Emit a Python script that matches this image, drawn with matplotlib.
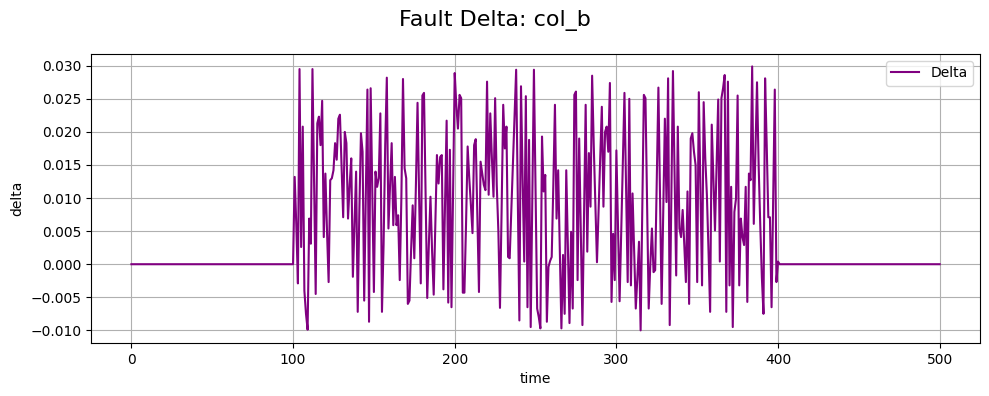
import numpy as np
import matplotlib
matplotlib.use("Agg")
import matplotlib.pyplot as plt

# time axis and fault window
t_start, t_end = 0, 500
fault_start = 101

# delta values, fault window only (t=101..400)
seg_a = [0.0132, 0.006, -0.0029, 0.0295, 0.0026, 0.0208, -0.004, -0.0075, -0.0099, 0.0069,
         0.0031, 0.0295, 0.012, -0.0045, 0.0213, 0.0223, 0.018, 0.0247, 0.0041, 0.0137,
         0.005, -0.0027, 0.0127, 0.013, 0.0142, 0.0183, 0.0158, 0.022, 0.0226, 0.015,
         0.0071, 0.020, 0.0183, 0.0069, 0.012, 0.016, -0.0019, 0.006, 0.014, -0.0072,
         0.008, 0.0198, 0.017, -0.0055, 0.010, 0.0264, -0.0087]
seg_b = [0.0266, 0.011, -0.0042, 0.014, 0.0117, 0.013, 0.0228, -0.0072, 0.003, 0.018,
         0.0282, 0.0054, 0.012, 0.0183, 0.0059, 0.0132, 0.0059, 0.0074, -0.0024, 0.01,
         0.028, 0.0145, 0.013, -0.006, -0.0055, 0.002, 0.0089, 0.0009, 0.012, 0.0244,
         0.01, -0.0029, 0.0255, 0.0259, 0.01, -0.0051, 0.003, 0.0102, 0.002, -0.0046,
         0.006, 0.0165, 0.0122, 0.0162, 0.0165, -0.0038, 0.009, 0.0217, -0.0058, 0.0173]
seg_c = [-0.0065, 0.011, 0.0289, 0.024, 0.0205, 0.0256, 0.0251, -0.0043, -0.0043, 0.006,
         0.0178, 0.013, 0.009, 0.0047, 0.018, 0.0189, 0.007, -0.0042, 0.0155, 0.0137,
         0.012, 0.0112, 0.0276, 0.0105, 0.0228, 0.016, 0.0102, 0.0251, 0.012, 0.005,
         -0.0066, 0.008, 0.0241, 0.0175, 0.0208, 0.0011, 0.0009, 0.008, 0.015, 0.022,
         0.0294, 0.010, -0.0085, 0.0269, 0.013, 0.0004, 0.0254, -0.0065, 0.0188]
seg_d = [-0.0095, 0.01, 0.0294, 0.0115, -0.0067, -0.008, -0.0097, 0.0193, 0.011, 0.0135,
         -0.0087, -0.0004, 0.0005, 0.0011, 0.012, 0.0241, 0.0069, 0.0142, 0.002, -0.0097,
         0.0014, -0.0075, 0.0142, 0.003, -0.0089, 0.0049, -0.0067, 0.0256, 0.0261, -0.0024,
         0.019, 0.005, -0.0092, 0.008, 0.0241, 0.0019, 0.0168, 0.0087, 0.0285, 0.018,
         0.009, 0.0003, 0.008, 0.016, 0.0238, 0.0087, 0.02, 0.0208, 0.017, 0.0274]
seg_e = [-0.0057, 0.0046, -0.0024, 0.0172, 0.006, -0.0056, 0.005, 0.016, 0.0259, 0.012,
         -0.0027, 0.025, -0.0032, 0.0107, 0.002, -0.0067, -0.002, 0.0034, -0.01, 0.008,
         0.0256, 0.0251, 0.009, -0.0067, 0.0, 0.0054, -0.0012, -0.0009, 0.013, 0.0267,
         0.01, -0.006, 0.008, 0.022, 0.0094, 0.0281, -0.0092, 0.01, 0.0292, 0.014,
         -0.0017, 0.0208, 0.0054, 0.0041, 0.0082, 0.003, -0.0027, 0.011, -0.006, 0.019]
seg_f = [0.0198, 0.017, 0.015, -0.0027, 0.026, 0.011, -0.0032, 0.0245, 0.016, 0.0104,
         0.002, -0.0072, 0.0211, 0.013, 0.0051, 0.015, 0.0249, 0.0004, 0.0251, 0.0266,
         0.0286, -0.0072, 0.0276, -0.0032, 0.0117, -0.0095, 0.0079, 0.0099, 0.0255,
         -0.0032, 0.0069, 0.0041, 0.0029, 0.0117, -0.0057, 0.0137, 0.0127, 0.0299, 0.0061,
         0.017, 0.0275, 0.015, 0.006, -0.002, -0.0075, 0.0281, 0.018, 0.0071, 0.0071,
         -0.0065, 0.01, 0.0264, -0.0027, 0.0004]

fault_vals = np.array(seg_a + seg_b + seg_c + seg_d + seg_e + seg_f)

time = np.arange(t_start, t_end + 1)
delta = np.zeros(len(time))
delta[fault_start:fault_start + len(fault_vals)] = fault_vals

fig, ax = plt.subplots(figsize=(9.89, 3.96), dpi=100)
ax.plot(time, delta, color="purple", label="Delta")
ax.set_xlabel("time")
ax.set_ylabel("delta")
ax.set_ylim(-0.0119, 0.0318)
ax.grid(True)
ax.legend(loc="upper right")
fig.suptitle("Fault Delta: col_b", fontsize=16, y=0.975)
fig.subplots_adjust(left=0.092, right=0.991, top=0.864, bottom=0.134)
fig.savefig("out.png")
